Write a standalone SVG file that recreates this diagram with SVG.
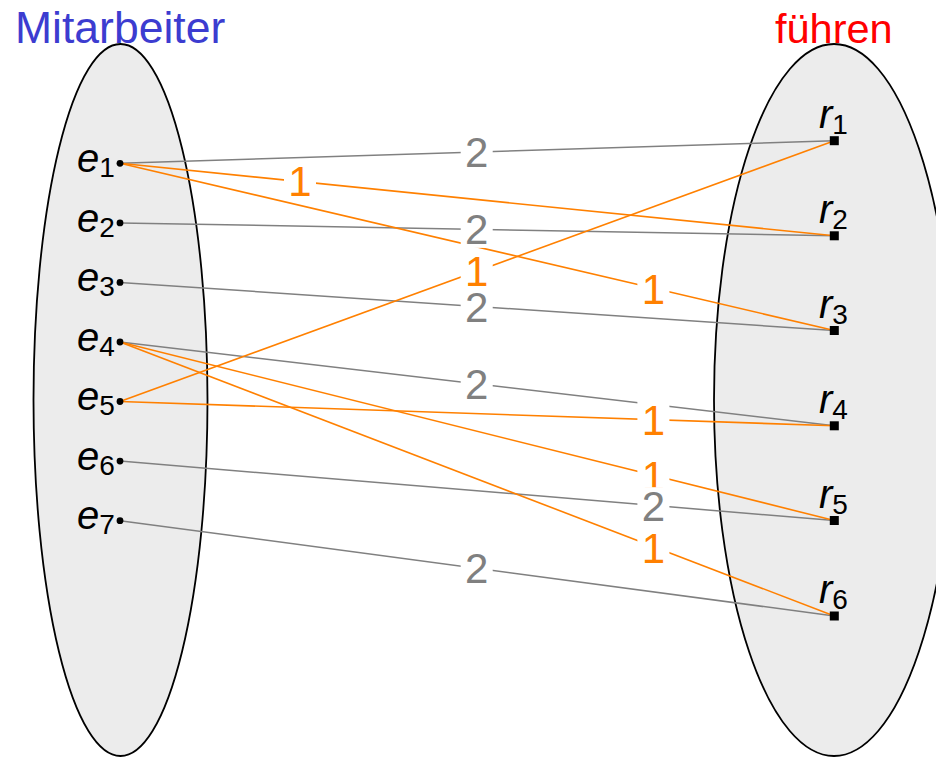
<svg xmlns="http://www.w3.org/2000/svg" width="936" height="758" viewBox="0 0 936 758">
  <style>
    .set { fill: #ececec; stroke: #000; stroke-width: 1.8; }
    .title { font-family: "Liberation Sans", Arial, sans-serif; font-size: 43px; }
    .var { font-family: "Liberation Sans", Arial, sans-serif; font-size: 40px; font-style: italic; fill: #000; }
    .sub { font-size: 28px; font-style: normal; }
    .g { stroke: #808080; stroke-width: 1.5; fill: none; }
    .o { stroke: #ff8000; stroke-width: 1.6; fill: none; }
    .lb rect { fill: #fff; }
    .lb text { font-family: "Liberation Sans", Arial, sans-serif; font-size: 42px; text-anchor: middle; }
    .lg text { fill: #808080; }
    .lo text { fill: #ff8000; }
    .dot { fill: #000; }
  </style>

  <g id="set-mitarbeiter">
    <ellipse class="set" cx="120.5" cy="400" rx="87" ry="356"/>
    <text class="title" x="15" y="43" fill="#3c3cd0" style="font-size:44.5px">Mitarbeiter</text>
  </g>
  <g id="set-fuehren">
    <ellipse class="set" cx="834" cy="400" rx="120" ry="356"/>
    <text class="title" x="775" y="43" fill="#ff0000" style="font-size:41.5px">führen</text>
  </g>

  <g id="connectors">
    <line class="g" x1="120" y1="163.3" x2="834.3" y2="140.7"/>
    <line class="g" x1="120" y1="222.9" x2="834.3" y2="235.8"/>
    <line class="g" x1="120" y1="282.4" x2="834.3" y2="330.5"/>
    <line class="g" x1="120" y1="342" x2="834.3" y2="425.8"/>
    <line class="g" x1="120" y1="461.1" x2="834.3" y2="520.5"/>
    <line class="g" x1="120" y1="520.7" x2="834.3" y2="616"/>
    <line class="o" x1="120" y1="163.3" x2="834.3" y2="235.8"/>
    <line class="o" x1="120" y1="163.3" x2="834.3" y2="330.5"/>
    <line class="o" x1="120" y1="342" x2="834.3" y2="520.5"/>
    <line class="o" x1="120" y1="342" x2="834.3" y2="616"/>
    <line class="o" x1="120" y1="401.5" x2="834.3" y2="140.7"/>
    <line class="o" x1="120" y1="401.5" x2="834.3" y2="425.8"/>

    <g class="lb lg"><rect x="460.7" y="133.5" width="32" height="37"/><text x="476.7" y="167">2</text></g>
    <g class="lb lo"><rect x="284" y="162.9" width="32" height="37"/><text x="300" y="196.4">1</text></g>
    <g class="lb lo"><rect x="637.4" y="270.2" width="32" height="37"/><text x="653.4" y="303.7">1</text></g>
    <g class="lb lg"><rect x="460.7" y="210.9" width="32" height="37"/><text x="476.7" y="244.4">2</text></g>
    <g class="lb lg"><rect x="460.7" y="288" width="32" height="37"/><text x="476.7" y="321.5">2</text></g>
    <g class="lb lg"><rect x="460.7" y="365.4" width="32" height="37"/><text x="476.7" y="398.9">2</text></g>
    <g class="lb lo"><rect x="637.4" y="457.5" width="32" height="37"/><text x="653.4" y="491">1</text></g>
    <g class="lb lo"><rect x="637.4" y="529" width="32" height="37"/><text x="653.4" y="562.5">1</text></g>
    <g class="lb lo"><rect x="460.7" y="252.6" width="32" height="37"/><text x="476.7" y="286.1">1</text></g>
    <g class="lb lo"><rect x="637.4" y="401.2" width="32" height="37"/><text x="653.4" y="434.7">1</text></g>
    <g class="lb lg"><rect x="637.4" y="487.2" width="32" height="37"/><text x="653.4" y="520.7">2</text></g>
    <g class="lb lg"><rect x="460.7" y="549.9" width="32" height="37"/><text x="476.7" y="583.4">2</text></g>
  </g>

  <g id="e1"><circle class="dot" cx="120" cy="163.3" r="3.4"/><text class="var" x="77" y="172">e<tspan class="sub" dy="5">1</tspan></text></g>
  <g id="e2"><circle class="dot" cx="120" cy="222.9" r="3.4"/><text class="var" x="77" y="231.5">e<tspan class="sub" dy="5">2</tspan></text></g>
  <g id="e3"><circle class="dot" cx="120" cy="282.4" r="3.4"/><text class="var" x="77" y="291">e<tspan class="sub" dy="5">3</tspan></text></g>
  <g id="e4"><circle class="dot" cx="120" cy="342" r="3.4"/><text class="var" x="77" y="350.5">e<tspan class="sub" dy="5">4</tspan></text></g>
  <g id="e5"><circle class="dot" cx="120" cy="401.5" r="3.4"/><text class="var" x="77" y="410">e<tspan class="sub" dy="5">5</tspan></text></g>
  <g id="e6"><circle class="dot" cx="120" cy="461.1" r="3.4"/><text class="var" x="77" y="469.6">e<tspan class="sub" dy="5">6</tspan></text></g>
  <g id="e7"><circle class="dot" cx="120" cy="520.7" r="3.4"/><text class="var" x="77" y="529.2">e<tspan class="sub" dy="5">7</tspan></text></g>

  <g id="r1"><rect class="dot" x="829.8" y="136.2" width="9" height="9"/><text class="var" x="819" y="127.7">r<tspan class="sub" dy="6">1</tspan></text></g>
  <g id="r2"><rect class="dot" x="829.8" y="231.3" width="9" height="9"/><text class="var" x="819" y="222.8">r<tspan class="sub" dy="6">2</tspan></text></g>
  <g id="r3"><rect class="dot" x="829.8" y="326" width="9" height="9"/><text class="var" x="819" y="317.5">r<tspan class="sub" dy="6">3</tspan></text></g>
  <g id="r4"><rect class="dot" x="829.8" y="421.3" width="9" height="9"/><text class="var" x="819" y="412.8">r<tspan class="sub" dy="6">4</tspan></text></g>
  <g id="r5"><rect class="dot" x="829.8" y="516" width="9" height="9"/><text class="var" x="819" y="507.5">r<tspan class="sub" dy="6">5</tspan></text></g>
  <g id="r6"><rect class="dot" x="829.8" y="611.5" width="9" height="9"/><text class="var" x="819" y="603">r<tspan class="sub" dy="6">6</tspan></text></g>
</svg>
